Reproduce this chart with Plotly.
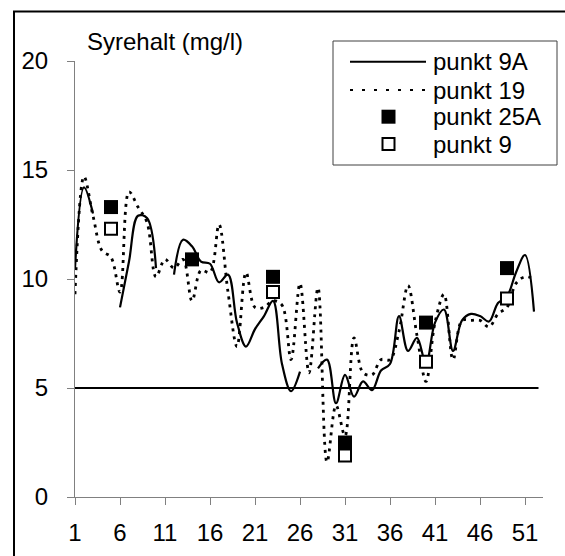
import plotly.graph_objects as go

# ---------------- data ----------------
weeks = list(range(1, 53))
punkt_9A = [10.5, 14.2, 13.0, None, None, 8.7, 10.8, 12.9, 12.8, 10.5,
            None, 10.2, 11.8, 11.5, 10.8, 10.7, 9.85, 10.2, 8.0, 6.9,
            7.7, 8.3, 9.0, 6.1, 4.85, 5.75, None, 5.9, 6.3, 4.3,
            5.6, 4.6, 5.3, 4.9, 5.8, 6.1, 8.3, 6.7, 7.3, 6.1,
            8.0, 8.6, 6.7, 8.1, 8.4, 8.3, 8.05, 8.9, 9.2, 10.3,
            11.1, 8.5]
punkt_19 = [9.3, 14.7, 12.9, 11.3, 11.0, 9.4, 14.0, 13.3, 12.6, 10.1,
            10.9, 10.5, 10.9, 9.0, 10.4, 10.3, 12.5, 9.4, 6.9, 10.3,
            8.7, 8.7, 9.0, 8.8, 6.3, 9.8, 5.7, 9.6, 1.6, 4.2,
            2.8, 7.3, 5.7, 5.6, 6.3, 6.3, 7.6, 9.7, 7.4, 5.3,
            8.0, 9.3, 6.3, 8.1, 8.1, 8.1, 7.8, 8.4, 8.7, 9.8,
            10.1, 10.0]
weeks_25A = [5, 14, 23, 31, 40, 49]
punkt_25A = [13.3, 10.9, 10.1, 2.5, 8.0, 10.5]
weeks_9 = [5, 23, 31, 40, 49]
punkt_9 = [12.3, 9.4, 1.9, 6.2, 9.1]
limit_x = [1, 52.5]
limit_y = [5, 5]
x_ticks = [1, 6, 11, 16, 21, 26, 31, 36, 41, 46, 51]
y_ticks = [0, 5, 10, 15, 20]
series_names = ["punkt 9A", "punkt 19", "punkt 25A", "punkt 9"]
y_title = "Syrehalt (mg/l)"

# ---------------- layout geometry ----------------
W, H = 565, 556
L, R, T, B = 75, 22, 61, 59
PW, PH = W - L - R, H - T - B
FONT = "Liberation Sans, Arial, sans-serif"
FS = 24


def px(xp):
    return (xp - L) / PW


def py(yp):
    return (H - B - yp) / PH


fig = go.Figure()

fig.add_trace(go.Scatter(x=limit_x, y=limit_y, mode="lines",
                         line=dict(color="black", width=2),
                         showlegend=False, hoverinfo="skip"))
fig.add_trace(go.Scatter(x=weeks, y=punkt_9A, mode="lines", name=series_names[0],
                         line=dict(color="black", width=2.2, shape="spline", smoothing=1),
                         connectgaps=False, showlegend=False))
fig.add_trace(go.Scatter(x=weeks, y=punkt_19, mode="lines", name=series_names[1],
                         line=dict(color="black", width=2.8, shape="spline", smoothing=1,
                                   dash="3px,5px"),
                         connectgaps=False, showlegend=False))
fig.add_trace(go.Scatter(x=weeks_25A, y=punkt_25A, mode="markers", name=series_names[2],
                         marker=dict(symbol="square", size=14, color="black",
                                     line=dict(width=0)),
                         showlegend=False))
fig.add_trace(go.Scatter(x=weeks_9, y=punkt_9, mode="markers", name=series_names[3],
                         marker=dict(symbol="square", size=12, color="white",
                                     line=dict(color="black", width=2)),
                         showlegend=False))

shapes = []
# outer chart border
shapes.append(dict(type="rect", xref="paper", yref="paper",
                   x0=px(14), x1=px(580), y0=py(570), y1=py(11.5),
                   line=dict(color="black", width=2), layer="above"))
# legend box
shapes.append(dict(type="rect", xref="paper", yref="paper",
                   x0=px(333), x1=px(557), y0=py(165), y1=py(41),
                   line=dict(color="#404040", width=1), fillcolor="white", layer="below"))
rows = [61.7, 90, 116.7, 144]
shapes.append(dict(type="line", xref="paper", yref="paper",
                   x0=px(350), x1=px(426), y0=py(rows[0]), y1=py(rows[0]),
                   line=dict(color="black", width=2)))
shapes.append(dict(type="line", xref="paper", yref="paper",
                   x0=px(350), x1=px(426), y0=py(rows[1]), y1=py(rows[1]),
                   line=dict(color="black", width=2, dash="3px,9px")))
shapes.append(dict(type="rect", xref="paper", yref="paper",
                   x0=px(381.5), x1=px(395.5), y0=py(rows[2] + 7), y1=py(rows[2] - 7),
                   line=dict(width=0), fillcolor="black"))
shapes.append(dict(type="rect", xref="paper", yref="paper",
                   x0=px(382.5), x1=px(394.5), y0=py(rows[3] + 6), y1=py(rows[3] - 6),
                   line=dict(color="black", width=2), fillcolor="white"))

annotations = []
for name, r in zip(series_names, rows):
    annotations.append(dict(text=name, xref="paper", yref="paper",
                            x=px(431), y=py(r), xanchor="left", yanchor="middle",
                            showarrow=False, font=dict(family=FONT, size=FS, color="black")))
annotations.append(dict(text=y_title, xref="paper", yref="paper",
                        x=px(85), y=py(41.7), xanchor="left", yanchor="middle",
                        showarrow=False, font=dict(family=FONT, size=FS, color="black")))

fig.update_layout(
    width=W, height=H,
    margin=dict(l=L, r=R, t=T, b=B, pad=0, autoexpand=False),
    paper_bgcolor="white", plot_bgcolor="white",
    font=dict(family=FONT, size=FS, color="black"),
    shapes=shapes, annotations=annotations,
    showlegend=False,
)
fig.update_xaxes(range=[1, 53], tickmode="array", tickvals=x_ticks,
                 ticktext=[str(v) for v in x_ticks], automargin=False,
                 showgrid=False, zeroline=False, showline=True,
                 linecolor="#808080", linewidth=1,
                 ticks="outside", ticklen=7, tickcolor="#808080", tickwidth=1,
                 ticklabelstandoff=7,
                 tickfont=dict(family=FONT, size=FS, color="black"))
fig.update_yaxes(range=[0, 20], tickmode="array", tickvals=y_ticks, automargin=False,
                 showgrid=False, zeroline=False, showline=True,
                 linecolor="#808080", linewidth=1,
                 ticks="outside", ticklen=7, tickcolor="#808080", tickwidth=1,
                 ticklabelstandoff=14,
                 tickfont=dict(family=FONT, size=FS, color="black"))

fig.write_html("out.html")
